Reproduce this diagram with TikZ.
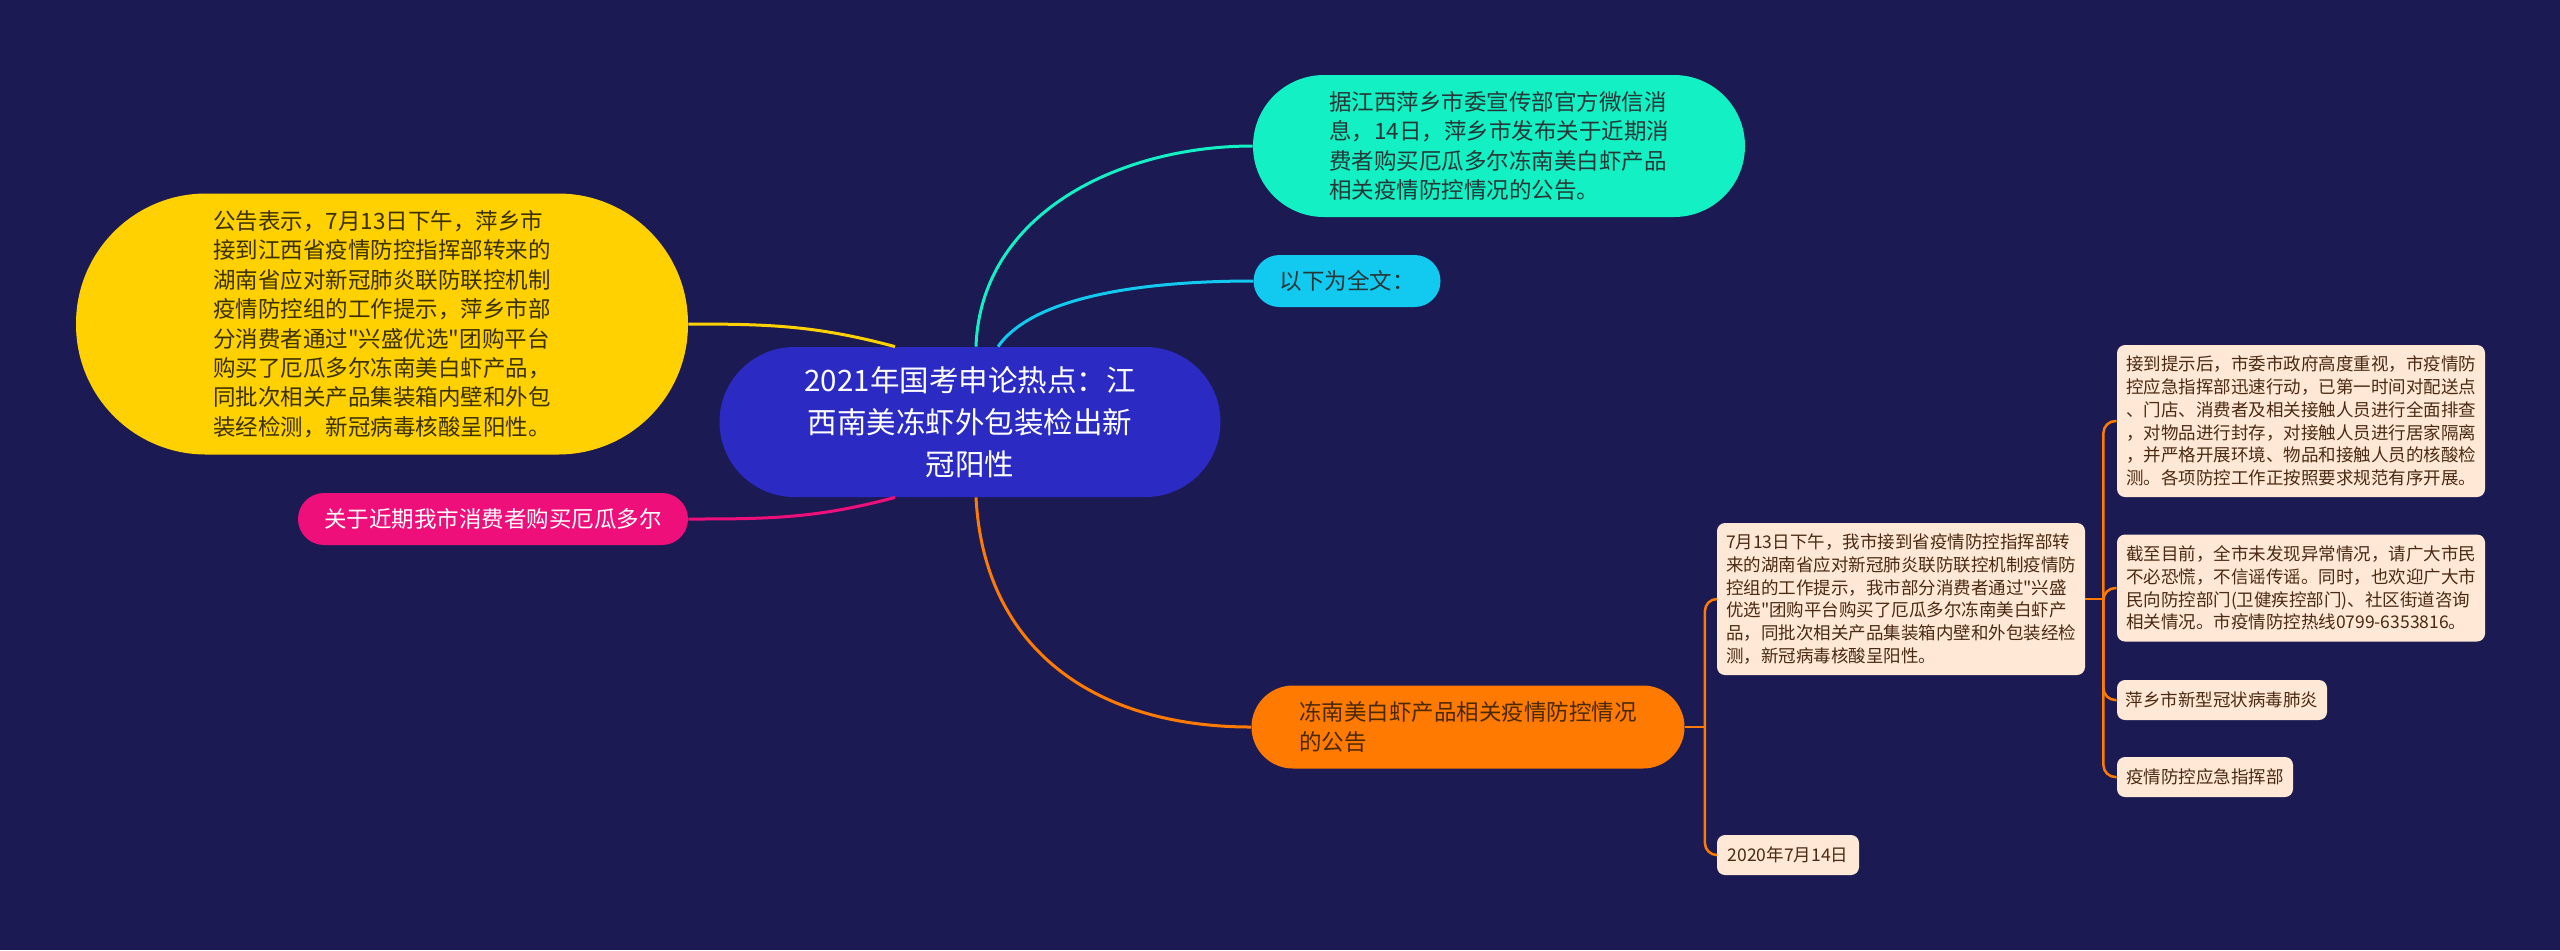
\documentclass[tikz,border=0pt]{standalone}
\usepackage{fontspec}
\setmainfont{Noto Sans CJK SC}[Ligatures=TeXOff]
\usetikzlibrary{positioning,calc}

\definecolor{bgnavy}{HTML}{1B1A53}
\definecolor{ctrblue}{HTML}{2B2BC4}
\definecolor{mintgreen}{HTML}{13F0C4}
\definecolor{skyblue}{HTML}{12C9F0}
\definecolor{goldyel}{HTML}{FFD100}
\definecolor{hotpink}{HTML}{EF0F7B}
\definecolor{deeporange}{HTML}{FF7A00}
\definecolor{leafbg}{HTML}{FFE8D6}
\definecolor{leafink}{HTML}{4A2A12}
\definecolor{darkink}{HTML}{263636}
\definecolor{yelink}{HTML}{3A3000}
\definecolor{ornink}{HTML}{4A2800}

\begin{document}
\begin{tikzpicture}[x=0.5pt, y=0.5pt,
  pill/.style={inner sep=0pt, align=left, font=\fontsize{11.25pt}{14.7pt}\selectfont},
  leaf/.style={fill=leafbg, text=leafink, rounded corners=4pt, inner sep=0pt, align=left, font=\fontsize{8.75pt}{11.35pt}\selectfont},
  link/.style={line width=1.5pt},
  sublink/.style={line width=1.25pt, deeporange, rounded corners=6pt}
]
\useasboundingbox (0,0) rectangle (2560,-950);
\fill[bgnavy] (0,0) rectangle (2560,-950);

% central topic
\node[inner sep=0pt, fill=ctrblue, text=white, align=center, minimum width=250.5pt, minimum height=75pt, rounded corners=37.5pt, font=\fontsize{14.75pt}{21pt}\selectfont] (ctr) at (970,-422) {2021年国考申论热点：江\\西南美冻虾外包装检出新\\冠阳性};

% first level
\node[pill, fill=mintgreen, text=darkink, minimum width=246pt, minimum height=71pt, rounded corners=35.5pt] (teal) at (1499,-146) {据江西萍乡市委宣传部官方微信消\\息，14日，萍乡市发布关于近期消\\费者购买厄瓜多尔冻南美白虾产品\\相关疫情防控情况的公告。};
\node[pill, fill=skyblue, text=darkink, minimum width=93.5pt, minimum height=26pt, rounded corners=13pt] (cyan) at (1347,-281) {以下为全文：};
\node[pill, fill=goldyel, text=yelink, minimum width=306pt, minimum height=130.5pt, rounded corners=65pt] (yel) at (382,-324) {公告表示，7月13日下午，萍乡市\\接到江西省疫情防控指挥部转来的\\湖南省应对新冠肺炎联防联控机制\\疫情防控组的工作提示，萍乡市部\\分消费者通过"兴盛优选"团购平台\\购买了厄瓜多尔冻南美白虾产品，\\同批次相关产品集装箱内壁和外包\\装经检测，新冠病毒核酸呈阳性。};
\node[pill, fill=hotpink, text=white, minimum width=195pt, minimum height=26pt, rounded corners=13pt] (pink) at (493,-519) {关于近期我市消费者购买厄瓜多尔};
\node[pill, fill=deeporange, text=ornink, minimum width=216.5pt, minimum height=41.5pt, rounded corners=20.75pt] (orn) at (1468,-727) {冻南美白虾产品相关疫情防控情况\\的公告};

% leaves
\node[leaf, minimum width=184pt, minimum height=76pt] (note) at (1901,-599) {7月13日下午，我市接到省疫情防控指挥部转\\来的湖南省应对新冠肺炎联防联控机制疫情防\\控组的工作提示，我市部分消费者通过"兴盛\\优选"团购平台购买了厄瓜多尔冻南美白虾产\\品，同批次相关产品集装箱内壁和外包装经检\\测，新冠病毒核酸呈阳性。};
\node[leaf, minimum width=71pt, minimum height=20pt] (date) at (1788,-855) {2020年7月14日};
\node[leaf, minimum width=184pt, minimum height=76pt] (nA) at (2301,-421) {接到提示后，市委市政府高度重视，市疫情防\\控应急指挥部迅速行动，已第一时间对配送点\\、门店、消费者及相关接触人员进行全面排查\\，对物品进行封存，对接触人员进行居家隔离\\，并严格开展环境、物品和接触人员的核酸检\\测。各项防控工作正按照要求规范有序开展。};
\node[leaf, minimum width=184pt, minimum height=53.5pt] (nB) at (2301,-588) {截至目前，全市未发现异常情况，请广大市民\\不必恐慌，不信谣传谣。同时，也欢迎广大市\\民向防控部门(卫健疾控部门)、社区街道咨询\\相关情况。市疫情防控热线0799-6353816。};
\node[leaf, minimum width=105pt, minimum height=20pt] (nC) at (2222,-700) {萍乡市新型冠状病毒肺炎};
\node[leaf, minimum width=88pt, minimum height=20pt] (nD) at (2205,-777) {疫情防控应急指挥部};

% links from the centre
\draw[link, mintgreen] ([xshift=3pt]ctr.north) to[out=88, in=180] (teal.west);
\draw[link, skyblue] ([xshift=14pt]ctr.north) to[out=55, in=180, looseness=0.7] (cyan.west);
\draw[link, goldyel] ([xshift=-37.5pt]ctr.north) to[out=165, in=0] (yel.east);
\draw[link, hotpink] ([xshift=-37.5pt]ctr.south) to[out=195, in=0] (pink.east);
\draw[link, deeporange] ([xshift=3pt]ctr.south) to[out=-87, in=180, looseness=1.1] (orn.west);

% brackets
\draw[sublink] (orn.east) -- ++(10pt,0) coordinate (obr);
\draw[sublink] (obr) |- (note.west);
\draw[sublink] (obr) |- (date.west);
\draw[sublink] (note.east) -- ++(9pt,0) coordinate (nbr);
\foreach \n in {nA,nB,nC,nD}
  \draw[sublink] (nbr) |- (\n.west);
\end{tikzpicture}
\end{document}
